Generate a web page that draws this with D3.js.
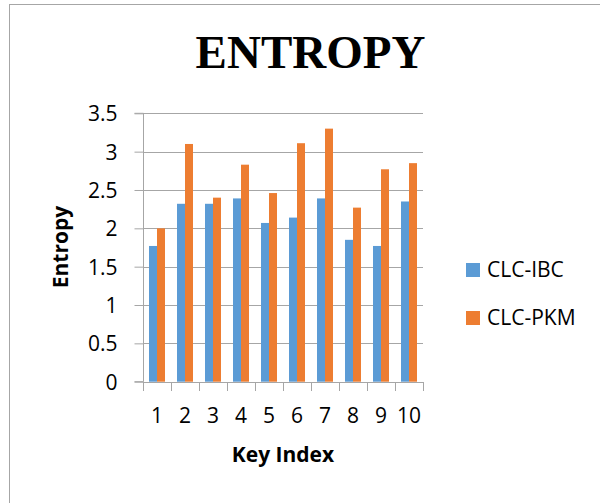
<!DOCTYPE html>
<html>
<head>
<meta charset="utf-8">
<script src="https://cdn.jsdelivr.net/npm/d3@7"></script>
<style>
  html, body { margin: 0; padding: 0; background: #fff; }
  svg { display: block; }
</style>
</head>
<body>
<svg id="chart" width="600" height="503"></svg>
<script>
const categories = ["1", "2", "3", "4", "5", "6", "7", "8", "9", "10"];
const seriesNames = ["CLC-IBC", "CLC-PKM"];
const clcIBC = [1.77, 2.32, 2.32, 2.39, 2.07, 2.14, 2.39, 1.85, 1.77, 2.35];
const clcPKM = [2.00, 3.10, 2.40, 2.83, 2.46, 3.11, 3.30, 2.27, 2.77, 2.85];
const yTicks = [0, 0.5, 1, 1.5, 2, 2.5, 3, 3.5];
const colors = ["#5B9BD5", "#ED7D31"];
const titleText = "ENTROPY";
const xTitle = "Key Index";
const yTitle = "Entropy";

const svg = d3.select("#chart");
const font = "'Open Sans', 'Noto Sans', sans-serif";
const gridColor = "#a6a6a6";

// chart border
svg.append("rect")
  .attr("x", 9.5).attr("y", 4.5)
  .attr("width", 620).attr("height", 520)
  .attr("fill", "#fff").attr("stroke", "#a6a6a6").attr("stroke-width", 1);

const plot = { left: 143, right: 423, top: 113.3, bottom: 381.7 };

const x0 = d3.scaleBand().domain(categories).range([plot.left, plot.right]).padding(0);
const x1 = d3.scaleBand().domain(seriesNames).range([6, 22]).padding(0);
const y = d3.scaleLinear().domain([0, 3.5]).range([plot.bottom, plot.top]);

// gridlines
svg.append("g").selectAll("line").data(yTicks.filter(d => d > 0)).join("line")
  .attr("x1", plot.left).attr("x2", plot.right)
  .attr("y1", d => Math.round(y(d)) + 0.5).attr("y2", d => Math.round(y(d)) + 0.5)
  .attr("stroke", gridColor).attr("stroke-width", 1);

// y axis
const yAxis = d3.axisLeft(y).tickValues(yTicks).tickSize(9).tickFormat(d3.format("~g"));
const gy = svg.append("g").attr("transform", `translate(${plot.left + 0.5},0)`).call(yAxis);
gy.select(".domain").attr("stroke", gridColor).attr("d", `M-9,${y(3.5)}H0V${y(0)}H-9`);
gy.selectAll(".tick line").attr("stroke", gridColor);
gy.selectAll(".tick text")
  .attr("x", -26)
  .attr("dy", "0.35em")
  .attr("font-family", font).attr("font-size", 21).attr("fill", "#000");

// bars
const data = categories.map((c, i) => ({ cat: c, vals: [clcIBC[i], clcPKM[i]] }));
const groups = svg.append("g").selectAll("g").data(data).join("g")
  .attr("transform", d => `translate(${x0(d.cat)},0)`);
groups.selectAll("rect")
  .data(d => d.vals.map((v, j) => ({ name: seriesNames[j], v, j })))
  .join("rect")
  .attr("x", d => x1(d.name))
  .attr("width", x1.bandwidth())
  .attr("y", d => y(d.v))
  .attr("height", d => y(0) - y(d.v))
  .attr("fill", d => colors[d.j]);

// x axis
const xAxisLine = svg.append("g");
xAxisLine.append("line")
  .attr("x1", plot.left).attr("x2", plot.right)
  .attr("y1", Math.round(y(0)) + 0.5).attr("y2", Math.round(y(0)) + 0.5)
  .attr("stroke", gridColor);
const boundaries = categories.map(c => x0(c)).concat([plot.right]);
xAxisLine.selectAll("line.tk").data(boundaries).join("line").attr("class", "tk")
  .attr("x1", d => Math.round(d) + 0.5).attr("x2", d => Math.round(d) + 0.5)
  .attr("y1", Math.round(y(0))).attr("y2", Math.round(y(0)) + 9)
  .attr("stroke", gridColor);
xAxisLine.selectAll("text").data(categories).join("text")
  .attr("x", d => x0(d) + x0.bandwidth() / 2)
  .attr("y", 423)
  .attr("text-anchor", "middle")
  .attr("font-family", font).attr("font-size", 21).attr("fill", "#000")
  .text(d => d);

// title
svg.append("text")
  .attr("x", 310.5).attr("y", 68)
  .attr("text-anchor", "middle")
  .attr("font-family", "'Liberation Serif', 'Times New Roman', serif")
  .attr("font-weight", "bold").attr("font-size", 47).attr("fill", "#000")
  .text(titleText);

// axis titles
svg.append("text")
  .attr("x", 283).attr("y", 462)
  .attr("text-anchor", "middle")
  .attr("font-family", font).attr("font-weight", "bold").attr("font-size", 21).attr("fill", "#000")
  .text(xTitle);

svg.append("text")
  .attr("transform", "translate(68,247) rotate(-90)")
  .attr("text-anchor", "middle")
  .attr("font-family", font).attr("font-weight", "bold").attr("font-size", 21).attr("fill", "#000")
  .text(yTitle);

// legend
const legendY = [270, 318];
const legend = svg.append("g").selectAll("g").data(seriesNames).join("g")
  .attr("transform", (d, i) => `translate(466,${legendY[i]})`);
legend.append("rect")
  .attr("x", 0).attr("y", -7).attr("width", 14).attr("height", 14)
  .attr("fill", (d, i) => colors[i]);
legend.append("text")
  .attr("x", 21).attr("y", 0).attr("dy", "0.35em")
  .attr("font-family", font).attr("font-size", 21).attr("fill", "#000")
  .text(d => d);
</script>
</body>
</html>
